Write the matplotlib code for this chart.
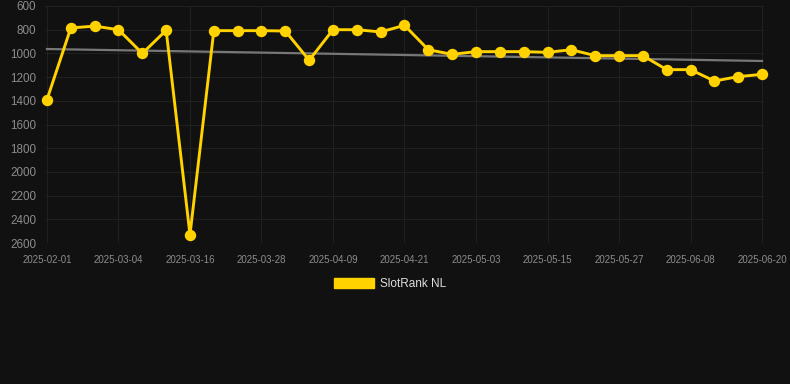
import numpy as np
import matplotlib
matplotlib.use("Agg")
import matplotlib.pyplot as plt

plt.rcParams["font.family"] = ["Liberation Sans", "DejaVu Sans"]

# rank values, one point every 4 days (category axis)
ranks = [1390, 785, 770, 800, 1000, 805, 2530, 808, 808, 808, 811, 1058,
         800, 800, 819, 763, 969, 1008, 985, 985, 985, 991, 969, 1019,
         1019, 1019, 1137, 1137, 1233, 1196, 1177]
tick_labels = ["2025-02-01", "2025-03-04", "2025-03-16", "2025-03-28",
               "2025-04-09", "2025-04-21", "2025-05-03", "2025-05-15",
               "2025-05-27", "2025-06-08", "2025-06-20"]
trend_ends = [963, 1064]
y_ticks = list(range(600, 2601, 200))

bg = "#111111"
gold = "#FFD200"

fig = plt.figure(figsize=(7.9, 3.84), dpi=100, facecolor=bg)
ax = fig.add_axes([44.6 / 790, 1 - 243 / 384, 719.8 / 790, 237 / 384], facecolor=bg)

x = np.arange(len(ranks))
ax.plot([x[0], x[-1]], trend_ends, color="#777777", lw=1.6, zorder=2)
ax.plot(x, ranks, color=gold, lw=2.1, marker="o", ms=7.2,
        solid_joinstyle="miter", zorder=3, clip_on=False)

ax.set_xlim(-0.1, len(ranks) - 0.9)
ax.set_ylim(2600, 600)
ax.set_yticks(y_ticks)
ax.set_xticks(x[::3])
ax.set_xticklabels(tick_labels)

ax.grid(True, color="#202020", lw=0.8)
ax.set_axisbelow(True)
for s in ax.spines.values():
    s.set_visible(False)
ax.tick_params(axis="y", length=0, pad=6, labelsize=8.4, labelcolor="#8c8c8c")
ax.tick_params(axis="x", length=0, pad=8.5, labelsize=7, labelcolor="#8c8c8c")

# legend: filled box + label
leg = fig.legend(handles=[plt.Rectangle((0, 0), 1, 1, color=gold)],
                 labels=["SlotRank NL"], loc="center",
                 bbox_to_anchor=(390 / 790, 1 - 284 / 384), frameon=False,
                 handlelength=3.4, handleheight=0.95, handletextpad=0.55,
                 fontsize=8.5)
for t in leg.get_texts():
    t.set_color("#dddddd")

fig.savefig("out.png", dpi=100, facecolor=bg)
